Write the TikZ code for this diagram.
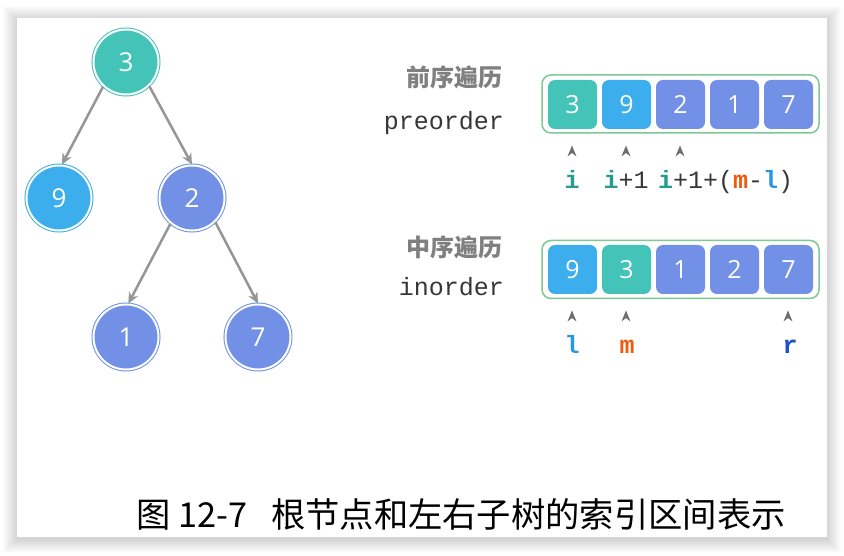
\documentclass[tikz,border=0pt]{standalone}
\usepackage{fontspec}
\newfontfamily\cjk{Noto Sans CJK SC}
\newfontfamily\mono{Liberation Mono}
\newfontfamily\digf{Open Sans}
\usetikzlibrary{arrows.meta}
\definecolor{tealc}{RGB}{68,196,185}
\definecolor{bluec}{RGB}{61,174,237}
\definecolor{purc}{RGB}{113,144,230}
\definecolor{edgec}{RGB}{150,150,150}
\definecolor{boxc}{RGB}{125,200,150}
\definecolor{caretc}{RGB}{110,110,110}
\definecolor{labgray}{RGB}{128,128,128}
\definecolor{txtc}{RGB}{55,55,55}
\definecolor{ic}{RGB}{40,155,145}
\definecolor{mc}{RGB}{240,90,15}
\definecolor{lc}{RGB}{40,150,225}
\definecolor{rc}{RGB}{30,80,205}
\tikzset{
  tnode/.style={circle, minimum size=65pt, inner sep=0pt, fill=#1, draw=white, line width=2pt,
    preaction={draw=#1, line width=4pt}, text=white, font=\digf\fontsize{26}{26}\selectfont},
  edgeline/.style={draw=edgec, line width=2.5pt, -{Stealth[length=11pt,width=10pt]}},
  cell/.style={rectangle, rounded corners=7pt, minimum size=49pt, inner sep=0pt, fill=#1,
    text=white, font=\digf\fontsize{25}{25}\selectfont},
  arrbox/.style={rectangle, draw=boxc, line width=1.5pt, rounded corners=9pt,
    minimum width=277pt, minimum height=58pt, inner sep=0pt},
  cnlab/.style={font=\cjk\bfseries\fontsize{24}{24}\selectfont, text=labgray, inner sep=0pt, anchor=east},
  enlab/.style={font=\mono\fontsize{25}{25}\selectfont, text=txtc, inner sep=0pt, anchor=base east},
  idx/.style={font=\mono\fontsize{25}{25}\selectfont, text=txtc, inner sep=0pt},
  caret/.style={fill=caretc}
}
\begin{document}
\begin{tikzpicture}[x=1pt,y=-1pt]
\useasboundingbox (0,0) rectangle (844,556);
\fill[white] (0,0) rectangle (844,556);
\foreach \e in {1,...,14} \fill[black,opacity=0.012] (17-\e,18-\e+2) rectangle (827+\e,537+\e+2);
\fill[white] (17,18) rectangle (827,537);

% tree
\node[tnode=tealc] (n3) at (126,62) {3};
\node[tnode=bluec] (n9) at (59,198) {9};
\node[tnode=purc] (n2) at (192,198) {2};
\node[tnode=purc] (n1) at (126,337) {1};
\node[tnode=purc] (n7) at (258,337) {7};
\draw[edgeline] (n3.-133) -- (n9.85);
\draw[edgeline] (n3.-46) -- (n2.90);
\draw[edgeline] (n2.-130) -- (n1.86);
\draw[edgeline] (n2.-46) -- (n7.90);

% preorder
\node[cnlab] (prelab) at (503,77) {前序遍历};
\node[enlab] (preen) at (504,130) {preorder};
\node[arrbox] (prebox) at (680.5,104) {};
\node[cell=tealc] (p1) at (572.5,104.5) {3};
\node[cell=bluec] (p2) at (626.5,104.5) {9};
\node[cell=purc] (p3) at (680.5,104.5) {2};
\node[cell=purc] (p4) at (734.5,104.5) {1};
\node[cell=purc] (p5) at (788.5,104.5) {7};
\foreach \x in {572,626,680}
  \fill[caret] (\x,145.5) -- (\x+4.5,156.5) -- (\x,153) -- (\x-4.5,156.5) -- cycle;
\node[idx, anchor=base] (ii) at (572,189) {\textcolor{ic}{\bfseries i}};
\node[idx, anchor=base] (ii1) at (626,189) {\textcolor{ic}{\bfseries i}+1};
\node[idx, anchor=base west] (ii2) at (658,189) {\textcolor{ic}{\bfseries i}+1+(\textcolor{mc}{\bfseries m}-\textcolor{lc}{\bfseries l})};

% inorder
\node[cnlab] (inlab) at (503,247) {中序遍历};
\node[enlab] (inen) at (504,296) {inorder};
\node[arrbox] (inbox) at (680.5,269.5) {};
\node[cell=bluec] (q1) at (572.5,269.5) {9};
\node[cell=tealc] (q2) at (626.5,269.5) {3};
\node[cell=purc] (q3) at (680.5,269.5) {1};
\node[cell=purc] (q4) at (734.5,269.5) {2};
\node[cell=purc] (q5) at (788.5,269.5) {7};
\foreach \x in {572,626,788}
  \fill[caret] (\x,310.5) -- (\x+4.5,321.5) -- (\x,318) -- (\x-4.5,321.5) -- cycle;
\node[idx, anchor=base] (ll) at (572,353) {\textcolor{lc}{\bfseries l}};
\node[idx, anchor=base] (mm) at (627,353) {\textcolor{mc}{\bfseries m}};
\node[idx, anchor=base] (rr) at (790,353) {\textcolor{rc}{\bfseries r}};

% caption
\node[anchor=base west, font=\cjk\fontsize{34.3}{36}\selectfont, inner sep=0pt] (cap) at (136,527) {图 12-7\hspace{24pt}根节点和左右子树的索引区间表示};
\end{tikzpicture}
\end{document}
